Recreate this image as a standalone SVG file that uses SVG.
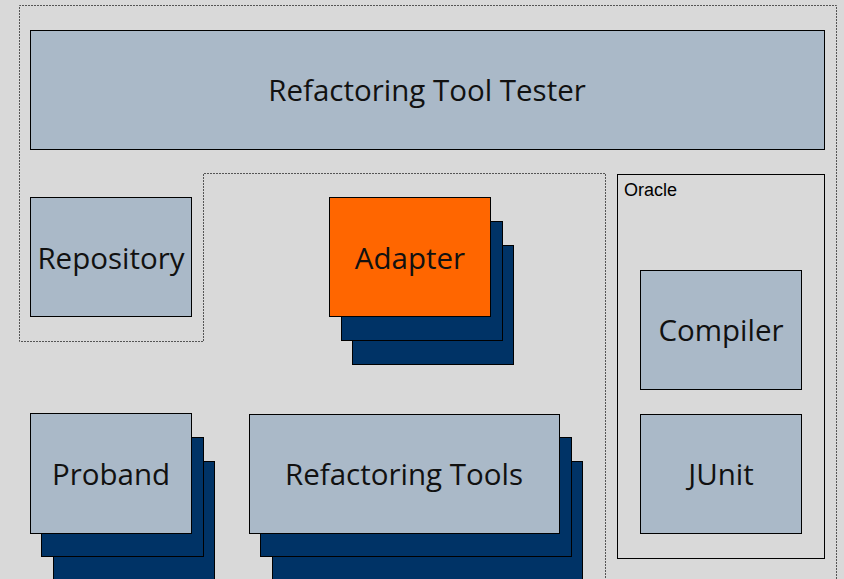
<svg xmlns="http://www.w3.org/2000/svg" width="844" height="579" viewBox="0 0 844 579">
  <style>
    .bg { fill: #d9d9d9; }
    .frame { fill: none; stroke: #555; stroke-width: 1; stroke-dasharray: 2 1; }
    .box { fill: #aab9c8; stroke: #000; stroke-width: 1; }
    .hot { fill: #ff6600; stroke: #000; stroke-width: 1; }
    .stack { fill: #003366; stroke: #000; stroke-width: 1; }
    .group { fill: #d9d9d9; stroke: #000; stroke-width: 1; }
    .label { font-family: "Open Sans", "Noto Sans", sans-serif; font-size: 29.5px; fill: #111; text-anchor: middle; }
    .small { font-family: "Liberation Sans", Arial, sans-serif; font-size: 18px; fill: #000; }
  </style>

  <rect class="bg" x="0" y="0" width="844" height="579"/>

  <!-- dotted system boundary -->
  <g id="boundary">
    <polyline class="frame" points="605.5,590 605.5,173.5 203.5,173.5 203.5,341.5 19.5,341.5 19.5,5.5 836.5,5.5 836.5,590"/>
  </g>

  <g id="tester">
    <rect class="box" x="30.5" y="30.5" width="794" height="119"/>
    <text class="label" x="427" y="101">Refactoring Tool Tester</text>
  </g>

  <g id="repository">
    <rect class="box" x="30.5" y="197.5" width="161" height="119"/>
    <text class="label" x="111" y="269">Repository</text>
  </g>

  <g id="adapter">
    <rect class="stack" x="352.5" y="245.5" width="161" height="119"/>
    <rect class="stack" x="341.5" y="221.5" width="161" height="119"/>
    <rect class="hot" x="329.5" y="197.5" width="161" height="119"/>
    <text class="label" x="410" y="269">Adapter</text>
  </g>

  <g id="proband">
    <rect class="stack" x="53.5" y="461.5" width="161" height="130"/>
    <rect class="stack" x="41.5" y="437.5" width="162" height="119"/>
    <rect class="box" x="30.5" y="413.5" width="161" height="120"/>
    <text class="label" x="111" y="485">Proband</text>
  </g>

  <g id="refactoring-tools">
    <rect class="stack" x="272.5" y="461.5" width="310" height="130"/>
    <rect class="stack" x="260.5" y="437.5" width="311" height="119"/>
    <rect class="box" x="249.5" y="414.5" width="310" height="119"/>
    <text class="label" x="404" y="485">Refactoring Tools</text>
  </g>

  <g id="oracle">
    <rect class="group" x="617.5" y="174.5" width="207" height="384"/>
    <text class="small" x="624" y="196">Oracle</text>
  </g>

  <g id="compiler">
    <rect class="box" x="640.5" y="270.5" width="161" height="119"/>
    <text class="label" x="721" y="341">Compiler</text>
  </g>

  <g id="junit">
    <rect class="box" x="640.5" y="414.5" width="161" height="119"/>
    <text class="label" x="721" y="485">JUnit</text>
  </g>

  <g id="connectors"></g>
</svg>
